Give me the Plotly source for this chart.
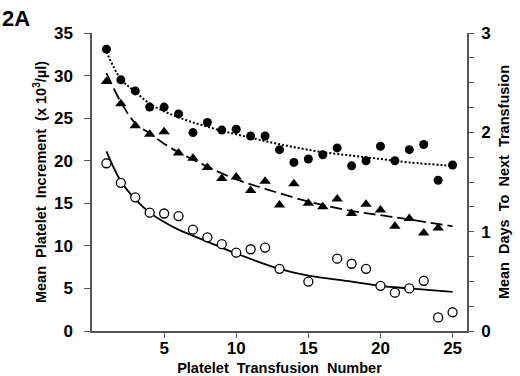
import plotly.graph_objects as go

# ---- data ----
x_closed = [1, 2, 3, 4, 5, 6, 7, 8, 9, 10, 11, 12, 13, 14, 15, 16, 17, 18, 19, 20, 21, 22, 23, 24, 25]
y_closed = [33.1, 29.5, 28.2, 26.3, 26.3, 25.5, 23.3, 24.5, 23.6, 23.7, 22.9, 22.9, 21.3, 19.8, 20.2,
            20.7, 21.5, 19.4, 20.0, 21.7, 20.0, 21.3, 21.9, 17.7, 19.5]

x_tri = [1, 2, 3, 4, 5, 6, 7, 8, 9, 10, 11, 12, 13, 14, 15, 16, 17, 18, 19, 20, 21, 22, 23, 24]
y_tri = [29.3, 26.7, 24.1, 23.1, 23.4, 20.9, 20.3, 19.2, 17.9, 18.1, 16.5, 17.6, 14.8, 17.3, 15.0,
         14.6, 15.5, 13.8, 14.9, 14.2, 12.3, 13.2, 11.5, 12.1]

x_open = [1, 2, 3, 4, 5, 6, 7, 8, 9, 10, 11, 12, 13, 15, 17, 18, 19, 20, 21, 22, 23, 24, 25]
y_open = [19.7, 17.4, 15.7, 13.9, 13.8, 13.5, 11.9, 11.0, 10.2, 9.2, 9.6, 9.8, 7.3, 5.8, 8.5,
          7.9, 7.3, 5.3, 4.5, 5.0, 5.9, 1.6, 2.2]

# trend curves
x_fit_dot = [1, 2, 3, 4, 5, 6, 7, 8, 9, 10, 12, 14, 16, 18, 20, 22, 25]
y_fit_dot = [32.8, 29.6, 28.1, 26.7, 25.8, 25.1, 24.5, 24.0, 23.5, 23.1, 22.3, 21.6, 21.0, 20.6, 20.2, 19.8, 19.4]

x_fit_dash = [1, 2, 3, 4, 5, 6, 8, 10, 12, 15, 18, 20, 22, 25]
y_fit_dash = [30.3, 26.9, 24.4, 23.2, 22.0, 21.0, 19.3, 17.8, 16.7, 15.2, 14.1, 13.6, 13.1, 12.3]

x_fit_solid = [1, 2, 3, 4, 5, 6, 8, 10, 13, 15, 18, 20, 22, 25]
y_fit_solid = [21.1, 17.6, 15.5, 13.9, 12.8, 11.9, 10.5, 9.1, 7.3, 6.5, 5.8, 5.3, 5.0, 4.6]

x_ticks = [5, 10, 15, 20, 25]
y_ticks = [0, 5, 10, 15, 20, 25, 30, 35]
y2_ticks = [0, 1, 2, 3]

FONT = "Liberation Sans, Arial, sans-serif"
AX = "#555555"

fig = go.Figure()

fig.add_trace(go.Scatter(x=x_fit_dot, y=y_fit_dot, mode="lines", line_shape="spline",
                         line=dict(color="black", width=2, dash="2px,2px"), hoverinfo="skip"))
fig.add_trace(go.Scatter(x=x_fit_dash, y=y_fit_dash, mode="lines", line_shape="spline",
                         line=dict(color="black", width=1.8, dash="12px,5px"), hoverinfo="skip"))
fig.add_trace(go.Scatter(x=x_fit_solid, y=y_fit_solid, mode="lines", line_shape="spline",
                         line=dict(color="black", width=1.8), hoverinfo="skip"))

fig.add_trace(go.Scatter(x=x_closed, y=y_closed, mode="markers",
                         marker=dict(symbol="circle", size=9, color="black")))
fig.add_trace(go.Scatter(x=x_tri, y=y_tri, mode="markers",
                         marker=dict(symbol="triangle-up", size=10, color="black")))
fig.add_trace(go.Scatter(x=x_open, y=y_open, mode="markers",
                         marker=dict(symbol="circle", size=9, color="white",
                                     line=dict(color="black", width=1.3))))
# empty trace so that the right-hand axis is drawn
fig.add_trace(go.Scatter(x=[None], y=[None], yaxis="y2", mode="markers",
                         showlegend=False, hoverinfo="skip"))

TICKFONT = dict(size=17, family=FONT, weight="bold", color="black")
TITLEFONT = dict(size=14.5, family=FONT, weight="bold", color="black")

fig.update_layout(
    width=520, height=376,
    margin=dict(l=92, r=53, t=33, b=45),
    paper_bgcolor="white", plot_bgcolor="white",
    showlegend=False,
    font=dict(family=FONT, color="black"),
    xaxis=dict(range=[0, 26], tickvals=x_ticks, ticks="outside", ticklen=5, tickcolor=AX,
               showline=True, linecolor=AX, linewidth=1.5, showgrid=False, zeroline=False,
               tickfont=TICKFONT, automargin=False, ticklabelstandoff=-4,
               title=dict(text="Platelet  Transfusion  Number", standoff=6, font=TITLEFONT)),
    yaxis=dict(range=[0, 35], tickvals=y_ticks, ticks="outside", ticklen=6, tickcolor=AX,
               showline=True, linecolor=AX, linewidth=1.5, showgrid=False, zeroline=False,
               tickfont=TICKFONT, ticklabelstandoff=8, automargin=False,
               title=dict(text="Mean  Platelet  Increment  (x 10<sup>3</sup>/µl)", standoff=4,
                          font=TITLEFONT)),
    yaxis2=dict(range=[0, 3], tickvals=y2_ticks, overlaying="y", side="right", anchor="x",
                ticks="outside", ticklen=5, tickcolor=AX, showgrid=False, zeroline=False,
                showline=True, linecolor=AX, linewidth=1.5, ticklabelstandoff=4,
                automargin=False,
                minor=dict(dtick=0.25, ticks="outside", ticklen=5, tickcolor=AX, showgrid=False),
                tickfont=TICKFONT,
                title=dict(text="Mean  Days  To  Next  Transfusion", standoff=9, font=TITLEFONT)),
    annotations=[dict(text="<b>2A</b>", x=0.0, y=1.0, xref="paper", yref="paper",
                      xanchor="left", yanchor="top", showarrow=False,
                      font=dict(size=22, family=FONT, color="black"),
                      xshift=-92, yshift=29)],
)

# remove the browser's default page margin so the figure sits at the window's corner
fig.write_html("out.html", config={"displayModeBar": False},
               post_script="document.body.style.margin='0';")
